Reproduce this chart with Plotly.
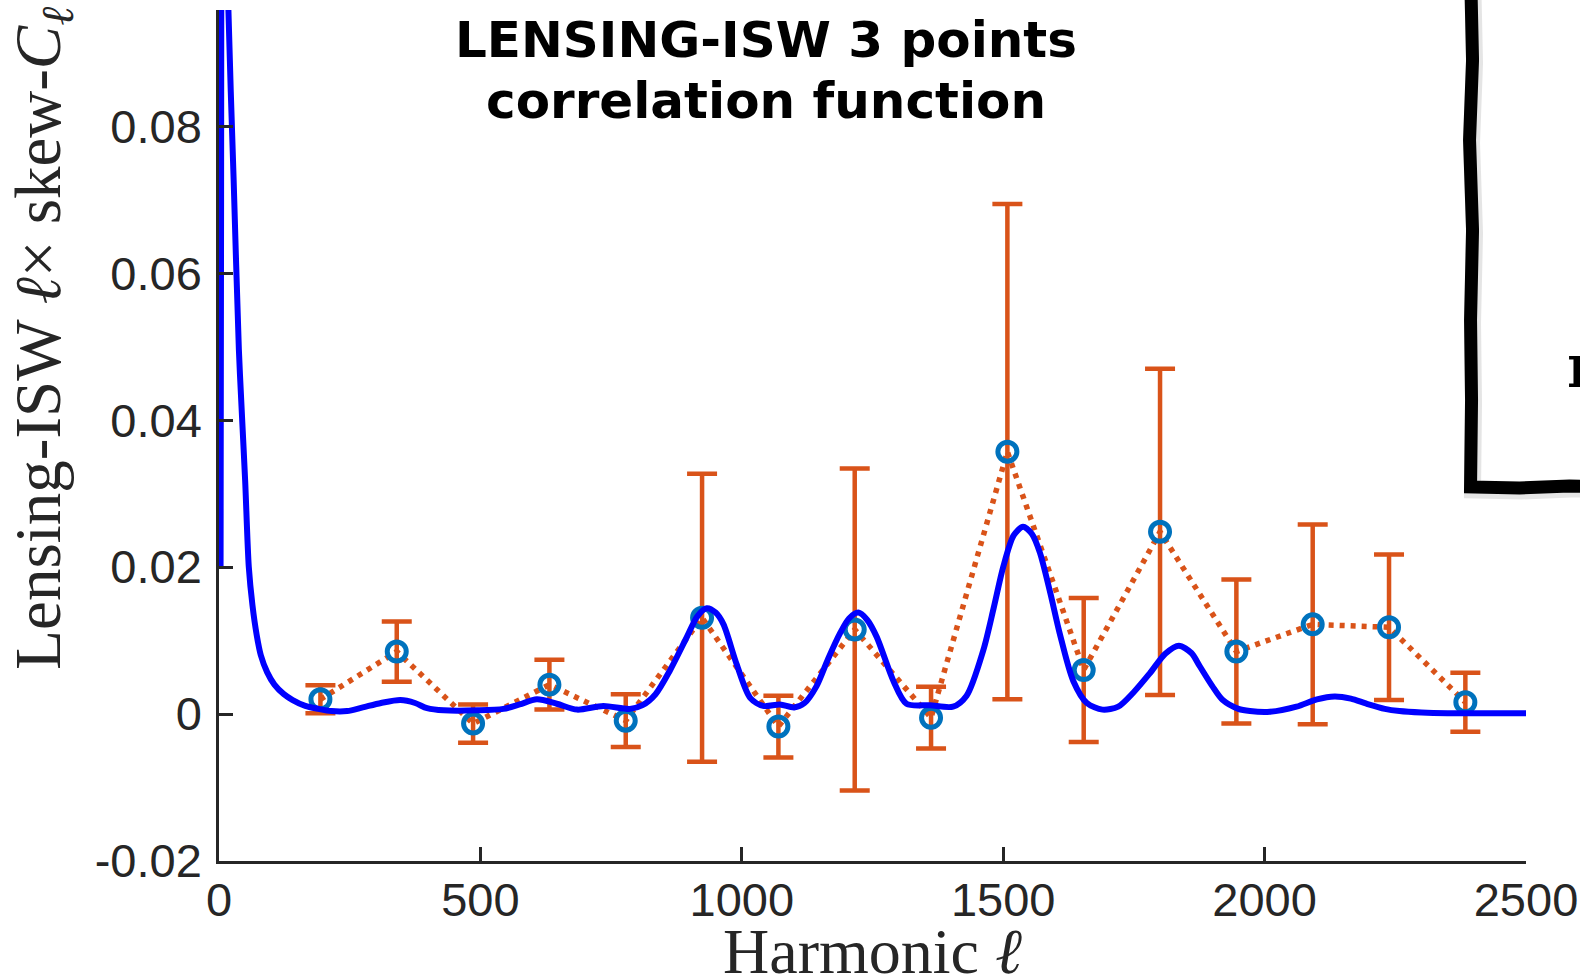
import plotly.graph_objects as go

# ---- measured band powers (lensing-ISW skew spectrum) ----
ell_bins = [194, 340, 486, 632, 778, 924, 1070, 1216, 1362, 1508,
            1654, 1800, 1946, 2092, 2238, 2384]
skew_cl = [0.0020, 0.0085, -0.0013, 0.0040, -0.0009, 0.0131, -0.0017, 0.0115,
           -0.0005, 0.0357, 0.0060, 0.0248, 0.0085, 0.0122, 0.0118, 0.0016]
skew_err = [0.0019, 0.0041, 0.0026, 0.0034, 0.0036, 0.0196, 0.0042, 0.0219,
            0.0042, 0.0337, 0.0098, 0.0222, 0.0098, 0.0136, 0.0099, 0.0040]

# ---- theoretical prediction ----
theory_ell = [3, 4, 5, 8, 12, 18, 28, 38, 44, 50, 57, 64, 72, 80, 92, 106, 124, 141,
              165, 190, 215, 245, 275, 310, 347, 375, 398, 430, 494, 544, 575, 608, 646,
              685, 735, 786, 810, 835, 863, 895, 915, 933, 950, 965, 990, 1016, 1041,
              1073, 1100, 1120, 1143, 1165, 1188, 1205, 1223, 1240, 1258, 1290, 1315,
              1360, 1404, 1430, 1462, 1482, 1500, 1520, 1538, 1555, 1570, 1590, 1608,
              1634, 1660, 1690, 1720, 1750, 1780, 1810, 1836, 1860, 1876, 1900, 1920,
              1950, 1972, 2010, 2061, 2100, 2134, 2165, 2195, 2230, 2258, 2300, 2350,
              2420, 2500]
theory_cl = [0.0200, 0.0700, 0.1200, 0.1500, 0.1250, 0.0958, 0.0727, 0.0496, 0.0405,
             0.0318, 0.0200, 0.0148, 0.0108, 0.0080, 0.0057, 0.0040, 0.0027, 0.0019,
             0.0011, 0.0007, 0.0004, 0.0004, 0.0009, 0.0015, 0.0019, 0.0015, 0.0008,
             0.0005, 0.0005, 0.0007, 0.0013, 0.0020, 0.0014, 0.0006, 0.0011, 0.0007,
             0.0012, 0.0027, 0.0060, 0.0105, 0.0133, 0.0144, 0.0138, 0.0122, 0.0068,
             0.0022, 0.0011, 0.0013, 0.0009, 0.0015, 0.0038, 0.0075, 0.0110, 0.0130,
             0.0138, 0.0128, 0.0105, 0.0045, 0.0014, 0.0012, 0.0010, 0.0025, 0.0087,
             0.0145, 0.0200, 0.0243, 0.0255, 0.0245, 0.0220, 0.0165, 0.0110, 0.0045,
             0.0015, 0.0006, 0.0010, 0.0030, 0.0055, 0.0082, 0.0093, 0.0083, 0.0065,
             0.0038, 0.0019, 0.0007, 0.0004, 0.0003, 0.0010, 0.0020, 0.0024, 0.0021,
             0.0014, 0.0007, 0.0004, 0.0002, 0.0001, 0.0001, 0.0001]

x_ticks = [0, 500, 1000, 1500, 2000, 2500]
y_ticks = [-0.02, 0, 0.02, 0.04, 0.06, 0.08]
y_tick_text = ["-0.02", "0", "0.02", "0.04", "0.06", "0.08"]

X_RANGE = [0, 2500]
Y_RANGE = [-0.02, 0.0958]

# figure geometry (pixels)
W, H = 1580, 980
PL, PR, PT, PB = 218.5, 1526.5, 10, 861


def px(x):
    return (x - PL) / (PR - PL)


def py(y):
    return (PB - y) / (PB - PT)


ORANGE = "#D95319"
MBLUE = "#0072BD"
AXCOL = "#262626"

fig = go.Figure()

# data with error bars, joined by a dotted line
fig.add_trace(go.Scatter(
    x=ell_bins, y=skew_cl, mode="lines",
    line=dict(color=ORANGE, width=5.5, dash="5px,6px"),
    error_y=dict(type="data", array=skew_err, visible=True,
                 color=ORANGE, thickness=4.5, width=15),
    hoverinfo="skip", showlegend=False,
))

# open circle markers
fig.add_trace(go.Scatter(
    x=ell_bins, y=skew_cl, mode="markers",
    marker=dict(symbol="circle-open", size=19, color=MBLUE,
                line=dict(width=5, color=MBLUE)),
    showlegend=False,
))

# theory curve
fig.add_trace(go.Scatter(
    x=theory_ell, y=theory_cl, mode="lines",
    line=dict(color="#0000FF", width=6, shape="spline", smoothing=0.8),
    showlegend=False,
))

tick_font = dict(family="Liberation Sans, Arial, sans-serif", size=47, color=AXCOL)

fig.update_xaxes(
    range=X_RANGE, tickvals=x_ticks, ticks="inside", ticklen=14, tickwidth=2.5,
    tickcolor=AXCOL, showline=True, linecolor=AXCOL, linewidth=2.5,
    showgrid=False, zeroline=False, tickfont=tick_font, automargin=False,
    ticklabelstandoff=-4,
)
fig.update_yaxes(
    range=Y_RANGE, tickvals=y_ticks, ticktext=y_tick_text, ticks="inside",
    ticklen=14, tickwidth=2.5, tickcolor=AXCOL, showline=True, linecolor=AXCOL,
    linewidth=2.5, showgrid=False, zeroline=False, tickfont=tick_font,
    automargin=False, ticklabelstandoff=5,
)

serif = "Liberation Serif, Times New Roman, serif"
title_font = dict(family="DejaVu Sans, sans-serif", size=50, color="black")
annotations = [
    dict(text="<b>LENSING-ISW 3 points</b>",
         x=px(766), y=py(40), xref="paper", yref="paper",
         xanchor="center", yanchor="middle", showarrow=False, font=title_font),
    dict(text="<b>correlation function</b>",
         x=px(766), y=py(101), xref="paper", yref="paper",
         xanchor="center", yanchor="middle", showarrow=False, font=title_font),
    dict(text="Harmonic <i>ℓ</i>",
         x=px(872), y=py(951), xref="paper", yref="paper",
         xanchor="center", yanchor="middle", showarrow=False,
         font=dict(family=serif, size=64, color=AXCOL)),
    dict(text="Lensing-ISW <i>ℓ</i>× skew-<i>C</i><sub><i>ℓ</i></sub>",
         x=px(42), y=py(338), xref="paper", yref="paper", textangle=-90,
         xanchor="center", yanchor="middle", showarrow=False,
         font=dict(family=serif, size=65, color=AXCOL)),
    dict(text="<b>n</b>",
         x=px(1566), y=py(366), xref="paper", yref="paper",
         xanchor="left", yanchor="middle", showarrow=False,
         font=dict(family="DejaVu Serif, serif", size=60, color="black")),
]

# hand-drawn inset frame at the upper right
frame_pts = [(1471, -30), (1473, 60), (1470, 140), (1473, 230), (1471, 320),
             (1472, 400), (1471, 487), (1520, 488), (1570, 486), (1640, 487)]


def path_from(pts, dx=0, dy=0):
    s = ""
    for i, (a, b) in enumerate(pts):
        s += ("M" if i == 0 else "L") + f"{px(a + dx):.5f},{py(b + dy):.5f}"
    return s


shapes = [
    dict(type="path", path=path_from(frame_pts, 2, 3), xref="paper", yref="paper",
         line=dict(color="rgba(0,0,0,0.10)", width=17)),
    dict(type="path", path=path_from(frame_pts), xref="paper", yref="paper",
         line=dict(color="black", width=13)),
]

fig.update_layout(
    width=W, height=H,
    margin=dict(l=PL, r=W - PR, t=PT, b=H - PB, autoexpand=False),
    paper_bgcolor="white", plot_bgcolor="white",
    annotations=annotations, shapes=shapes, showlegend=False,
)

fig.write_html("out.html")
